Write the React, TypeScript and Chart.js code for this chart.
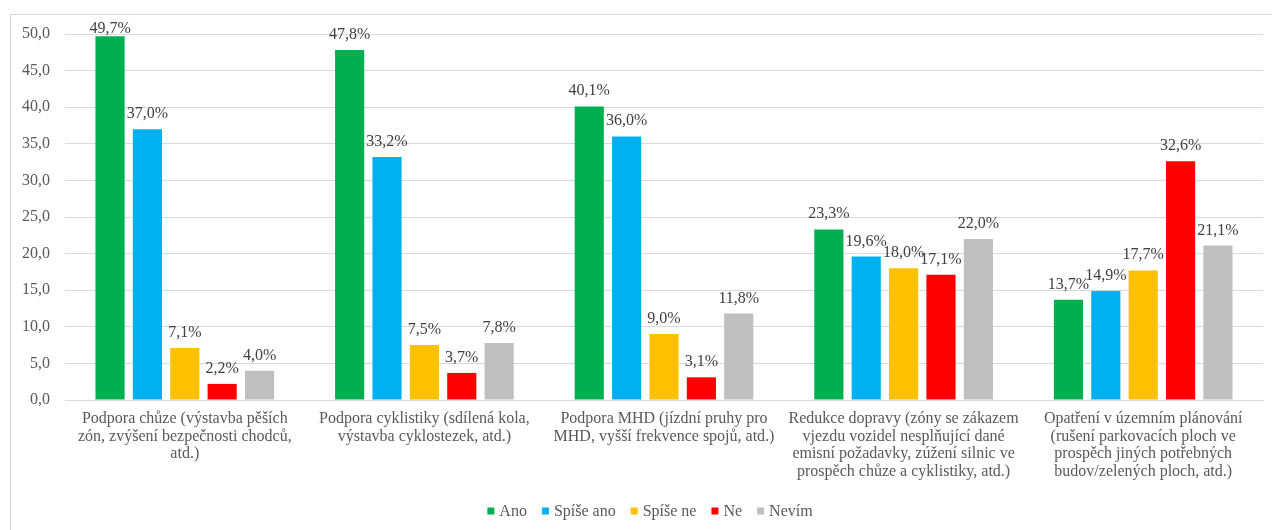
import React, { useEffect, useRef } from 'react';
import { Chart, registerables } from 'chart.js';

Chart.register(...registerables);

// ---- Data ----
const categories: string[][] = [
  ['Podpora chůze (výstavba pěších', 'zón, zvýšení bezpečnosti chodců,', 'atd.)'],
  ['Podpora cyklistiky (sdílená kola,', 'výstavba cyklostezek, atd.)'],
  ['Podpora MHD (jízdní pruhy pro', 'MHD, vyšší frekvence spojů, atd.)'],
  ['Redukce dopravy (zóny se zákazem', 'vjezdu vozidel nesplňující dané', 'emisní požadavky, zúžení silnic ve', 'prospěch chůze a cyklistiky, atd.)'],
  ['Opatření v územním plánování', '(rušení parkovacích ploch ve', 'prospěch jiných potřebných', 'budov/zelených ploch, atd.)'],
];
const seriesNames = ['Ano', 'Spíše ano', 'Spíše ne', 'Ne', 'Nevím'];
const ano = [49.7, 47.8, 40.1, 23.3, 13.7];
const spiseAno = [37.0, 33.2, 36.0, 19.6, 14.9];
const spiseNe = [7.1, 7.5, 9.0, 18.0, 17.7];
const ne = [2.2, 3.7, 3.1, 17.1, 32.6];
const nevim = [4.0, 7.8, 11.8, 22.0, 21.1];
const yMin = 0;
const yMax = 50;
const yStep = 5;

// ---- Styles ----
const seriesValues = [ano, spiseAno, spiseNe, ne, nevim];
const seriesColors = ['#00B050', '#00B0F0', '#FFC000', '#FF0000', '#BFBFBF'];
const FONT = "'Liberation Serif', 'Times New Roman', serif";
const TEXT = '#595959';
const GRID = '#d9d9d9';

const fmt = (v: number) => v.toFixed(1).replace('.', ',');

const framePlugin = {
  id: 'frame',
  beforeDraw(chart: any) {
    const ctx = chart.ctx;
    ctx.save();
    ctx.strokeStyle = GRID;
    ctx.lineWidth = 1;
    ctx.strokeRect(10.5, 14.5, 1400, 700);
    ctx.restore();
  },
};

const dataLabelPlugin = {
  id: 'dataLabels',
  afterDatasetsDraw(chart: any) {
    const ctx = chart.ctx;
    ctx.save();
    ctx.font = `16px ${FONT}`;
    ctx.fillStyle = '#404040';
    ctx.textAlign = 'center';
    ctx.textBaseline = 'alphabetic';
    chart.data.datasets.forEach((ds: any, i: number) => {
      const meta = chart.getDatasetMeta(i);
      meta.data.forEach((el: any, j: number) => {
        const v = ds.data[j] as number;
        const y = Math.max(el.y - 11, 33);
        ctx.fillText(fmt(v) + '%', el.x, y);
      });
    });
    ctx.restore();
  },
};

const legendPlugin = {
  id: 'customLegend',
  afterDraw(chart: any) {
    const ctx = chart.ctx;
    ctx.save();
    ctx.font = `16px ${FONT}`;
    ctx.textBaseline = 'middle';
    ctx.textAlign = 'left';
    const box = 7;
    const gap = 5;
    const spacing = 15;
    const items = chart.data.datasets.map((ds: any) => ({
      text: ds.label as string,
      color: ds.backgroundColor as string,
      w: ctx.measureText(ds.label).width,
    }));
    const total = items.reduce((s: number, it: any) => s + box + gap + it.w, 0) + spacing * (items.length - 1);
    const cy = 511;
    let x = 650 - total / 2;
    items.forEach((it: any) => {
      ctx.fillStyle = it.color;
      ctx.fillRect(x, cy - 3.5, box, box);
      ctx.fillStyle = TEXT;
      ctx.fillText(it.text, x + box + gap, cy + 1);
      x += box + gap + it.w + spacing;
    });
    ctx.restore();
  },
};

export default function App() {
  const ref = useRef<HTMLCanvasElement | null>(null);

  useEffect(() => {
    document.body.style.margin = '0';
    if (!ref.current) return;
    const chart = new Chart(ref.current, {
      type: 'bar',
      data: {
        labels: categories,
        datasets: seriesNames.map((name, i) => ({
          label: name,
          data: seriesValues[i],
          backgroundColor: seriesColors[i],
          borderWidth: 0,
          categoryPercentage: 0.78,
          barPercentage: 0.78,
        })),
      },
      options: {
        animation: false,
        responsive: false,
        maintainAspectRatio: false,
        layout: { padding: { left: 10, right: 9, top: 34, bottom: 0 } },
        plugins: {
          legend: { display: false },
          tooltip: { enabled: false },
        },
        scales: {
          x: {
            grid: { display: false, drawTicks: false },
            border: { display: true, color: GRID },
            ticks: {
              color: TEXT,
              font: { family: FONT, size: 16, lineHeight: 1.1 },
              padding: 10,
              maxRotation: 0,
              autoSkip: false,
            },
            afterFit(scale: any) {
              scale.height = 130;
            },
          },
          y: {
            min: yMin,
            max: yMax,
            grid: { color: GRID, drawTicks: false, lineWidth: 1 },
            border: { display: false },
            ticks: {
              stepSize: yStep,
              color: TEXT,
              font: { family: FONT, size: 16 },
              padding: 15,
              callback: (v: any) => fmt(Number(v)),
            },
            afterFit(scale: any) {
              scale.width = 55;
            },
          },
        },
      },
      plugins: [framePlugin, dataLabelPlugin, legendPlugin],
    });
    return () => chart.destroy();
  }, []);

  return (
    <div style={{ width: 1272, height: 530, position: 'relative' }}>
      <canvas ref={ref} width={1272} height={530} style={{ width: 1272, height: 530, display: 'block' }} />
    </div>
  );
}
